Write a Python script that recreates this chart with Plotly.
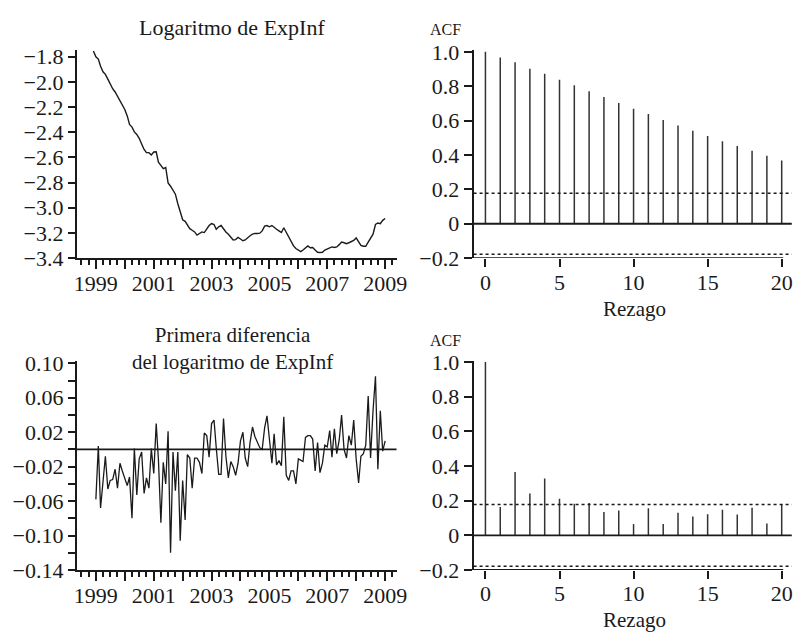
import pandas as pd
import plotly.graph_objects as go

# Monthly log of ExpInf, Dec 1998 - Jan 2009
log_expinf = [
    -1.754, -1.800, -1.818, -1.876, -1.919, -1.940, -1.978, -2.016, -2.054, -2.080,
    -2.117, -2.143, -2.181, -2.219, -2.270, -2.338, -2.359, -2.397, -2.417, -2.448,
    -2.493, -2.537, -2.562, -2.562, -2.580, -2.557, -2.555, -2.638, -2.663, -2.689,
    -2.680, -2.803, -2.829, -2.867, -2.892, -2.968, -3.032, -3.095, -3.108, -3.133,
    -3.166, -3.179, -3.192, -3.217, -3.204, -3.192, -3.197, -3.171, -3.141, -3.126,
    -3.133, -3.171, -3.151, -3.141, -3.171, -3.192, -3.210, -3.235, -3.256, -3.253,
    -3.235, -3.248, -3.262, -3.256, -3.235, -3.222, -3.210, -3.204, -3.204, -3.202,
    -3.184, -3.146, -3.141, -3.151, -3.141, -3.159, -3.171, -3.184, -3.197, -3.159,
    -3.197, -3.235, -3.268, -3.303, -3.324, -3.336, -3.349, -3.336, -3.318, -3.303,
    -3.318, -3.316, -3.336, -3.354, -3.356, -3.354, -3.336, -3.328, -3.318, -3.311,
    -3.316, -3.311, -3.293, -3.273, -3.278, -3.286, -3.278, -3.268, -3.260, -3.240,
    -3.268, -3.299, -3.306, -3.306, -3.273, -3.243, -3.210, -3.133, -3.121, -3.126,
    -3.100, -3.085,
]

# First difference of the log, Jan 1999 - Jan 2009
diff_log_expinf = [
    -0.058, 0.004, -0.068, -0.040, -0.008, -0.046, -0.036, -0.035, -0.023, -0.045,
    -0.016, -0.025, -0.035, -0.042, -0.032, -0.080, 0.001, -0.053, -0.011, -0.003,
    -0.051, -0.033, -0.045, 0.001, -0.028, 0.030, -0.012, -0.085, -0.015, -0.040,
    0.021, -0.120, -0.003, -0.048, -0.003, -0.106, -0.036, -0.082, -0.006, -0.010,
    -0.045, -0.010, -0.010, -0.015, -0.028, 0.019, 0.016, -0.009, 0.030, 0.034,
    0.002, -0.029, -0.029, 0.036, -0.008, -0.033, -0.014, -0.020, -0.030, -0.016,
    0.010, 0.020, -0.010, -0.020, 0.008, 0.026, 0.015, 0.008, 0.002, 0.000,
    0.025, 0.039, 0.012, -0.016, 0.018, -0.018, -0.013, -0.019, 0.038, -0.030,
    -0.036, -0.025, -0.025, -0.040, -0.011, -0.013, -0.014, 0.014, 0.016, 0.016,
    0.012, -0.025, 0.008, -0.027, -0.016, 0.005, 0.003, 0.022, -0.009, 0.024,
    -0.005, 0.011, 0.040, 0.000, -0.010, 0.016, 0.005, 0.034, -0.011, -0.039,
    -0.008, -0.005, 0.005, 0.062, -0.010, 0.045, 0.085, -0.023, 0.045, -0.002,
    0.010,
]

lags = list(range(21))
acf_level = [1.000, 0.967, 0.939, 0.901, 0.872, 0.838, 0.805, 0.771, 0.738, 0.703,
             0.669, 0.638, 0.604, 0.572, 0.541, 0.511, 0.480, 0.452, 0.424, 0.396, 0.368]
acf_diff = [1.000, 0.163, 0.365, 0.241, 0.328, 0.211, 0.183, 0.187, 0.135, 0.143,
            0.065, 0.156, 0.065, 0.130, 0.109, 0.122, 0.148, 0.120, 0.159, 0.069, 0.180]
conf_band = 0.178

year_ticks = list(range(1999, 2010))
year_labels = [str(y) if y % 2 == 1 else "" for y in year_ticks]
level_ticks = [-3.4, -3.2, -3.0, -2.8, -2.6, -2.4, -2.2, -2.0, -1.8]
diff_ticks = [-0.14, -0.12, -0.10, -0.08, -0.06, -0.04, -0.02, 0.0, 0.02, 0.04, 0.06, 0.08, 0.10]
diff_labels = ["\u22120.14", "", "\u22120.10", "", "\u22120.06", "", "\u22120.02", "",
               "0.02", "", "0.06", "", "0.10"]
acf_ticks = [-0.2, 0.0, 0.2, 0.4, 0.6, 0.8, 1.0]
acf_labels = ["\u22120.2", "0", "0.2", "0.4", "0.6", "0.8", "1.0"]
lag_ticks = [0, 5, 10, 15, 20]

log_dates = pd.date_range("1998-12-01", periods=len(log_expinf), freq="MS")
diff_dates = pd.date_range("1999-01-01", periods=len(diff_log_expinf), freq="MS")

W, H = 806, 642
FONT = "Liberation Serif, DejaVu Serif, serif"
INK = "#1a1a1a"
TICK_SIZE = 22


def fx(px):
    return px / W


def fy(px):
    return 1 - px / H


def stems(xs, ys):
    sx, sy = [], []
    for a, b in zip(xs, ys):
        sx += [a, a, None]
        sy += [0, b, None]
    return sx, sy


fig = go.Figure()

fig.add_trace(go.Scatter(x=log_dates, y=log_expinf, mode="lines",
                         line=dict(color=INK, width=1.4), xaxis="x", yaxis="y"))
sx, sy = stems(lags, acf_level)
fig.add_trace(go.Scatter(x=sx, y=sy, mode="lines",
                         line=dict(color="#333333", width=1.5), xaxis="x2", yaxis="y2"))
fig.add_trace(go.Scatter(x=diff_dates, y=diff_log_expinf, mode="lines",
                         line=dict(color=INK, width=1.3), xaxis="x3", yaxis="y3"))
sx, sy = stems(lags, acf_diff)
fig.add_trace(go.Scatter(x=sx, y=sy, mode="lines",
                         line=dict(color="#333333", width=1.5), xaxis="x4", yaxis="y4"))

axis_common = dict(showgrid=False, zeroline=False, ticks="outside", tickcolor=INK,
                   tickwidth=1.5, tickfont=dict(family=FONT, size=TICK_SIZE, color=INK))

left_dom = [fx(75), fx(400)]
right_dom = [fx(478.3), fx(801.7)]
top_dom = [fy(256.7), fy(41)]
bot_dom = [fy(580.7), fy(363.3)]
date_range = ["1998-05-05", "2009-05-25"]

date_axis = dict(axis_common, type="date", range=date_range, tickmode="array",
                 tickvals=[f"{y}-01-01" for y in year_ticks], ticktext=year_labels,
                 ticklen=9, ticklabelstandoff=-4, showline=True, linecolor=INK,
                 linewidth=1.8,
                 minor=dict(tickmode="linear", tick0="1999-01-01", dtick="M3",
                            ticks="outside", ticklen=5, tickcolor=INK, tickwidth=1.5))
lag_axis = dict(axis_common, range=[-0.8, 20.68], tickmode="array", tickvals=lag_ticks,
                ticktext=[str(v) for v in lag_ticks], ticklen=8, ticklabelstandoff=-4,
                showline=False)
acf_axis = dict(axis_common, range=[-0.2, 1.008], tickmode="array", tickvals=acf_ticks,
                ticktext=acf_labels, ticklen=8, showline=True, linecolor=INK, linewidth=1.8)

fig.update_layout(
    width=W, height=H, autosize=False, showlegend=False,
    margin=dict(l=0, r=0, t=0, b=0),
    font=dict(family=FONT, color=INK),
    paper_bgcolor="white", plot_bgcolor="white",
    xaxis=dict(date_axis, domain=left_dom, anchor="y"),
    yaxis=dict(axis_common, domain=top_dom, anchor="x", range=[-3.4, -1.75],
               tickmode="array", tickvals=level_ticks,
               ticktext=[f"{v:.1f}".replace("-", "\u2212") for v in level_ticks],
               ticklen=7, showline=True, linecolor=INK, linewidth=1.8),
    xaxis2=dict(lag_axis, domain=right_dom, anchor="y2"),
    yaxis2=dict(acf_axis, domain=top_dom, anchor="x2"),
    xaxis3=dict(date_axis, domain=left_dom, anchor="y3"),
    yaxis3=dict(axis_common, domain=bot_dom, anchor="x3", range=[-0.14, 0.103],
                tickmode="array", tickvals=diff_ticks, ticktext=diff_labels,
                ticklen=7, showline=True, linecolor=INK, linewidth=1.8),
    xaxis4=dict(lag_axis, domain=right_dom, anchor="y4"),
    yaxis4=dict(acf_axis, domain=bot_dom, anchor="x4"),
)

# Zero line of the differenced series
fig.add_shape(type="line", xref="x3 domain", yref="y3", x0=0, x1=1, y0=0, y1=0,
              line=dict(color=INK, width=1.8))

# ACF panels: zero line, 95% bands and the lag axis line
for xa, ya in (("x2", "y2"), ("x4", "y4")):
    fig.add_shape(type="line", xref=f"{xa} domain", yref=ya, x0=0, x1=1, y0=0, y1=0,
                  line=dict(color=INK, width=1.8))
    for b in (conf_band, -conf_band):
        fig.add_shape(type="line", xref=f"{xa} domain", yref=ya, x0=0, x1=1, y0=b, y1=b,
                      line=dict(color=INK, width=1.5, dash="dot"))
    fig.add_shape(type="line", xref=xa, yref=ya, x0=-0.8, x1=20.1, y0=-0.2, y1=-0.2,
                  line=dict(color=INK, width=1.8))

text_font = dict(family=FONT, size=22, color=INK)
label_font = dict(family=FONT, size=21, color=INK)
acf_font = dict(family=FONT, size=16, color=INK)
notes = [
    ("Logaritmo de ExpInf", fx(233), fy(17), "center", text_font),
    ("Primera diferencia<br>del logaritmo de ExpInf", fx(233), fy(351), "center",
     dict(family=FONT, size=21, color=INK)),
    ("ACF", fx(432), fy(19), "left", acf_font),
    ("ACF", fx(432), fy(342), "left", acf_font),
    ("Rezago", fx(641.5), fy(310), "center", label_font),
    ("Rezago", fx(641.5), fy(633), "center", label_font),
]
for txt, x, y, xa, f in notes:
    fig.add_annotation(text=txt, x=x, y=y, xref="paper", yref="paper", xanchor=xa,
                       yanchor="middle", showarrow=False, font=f)

fig.write_html("out.html")
